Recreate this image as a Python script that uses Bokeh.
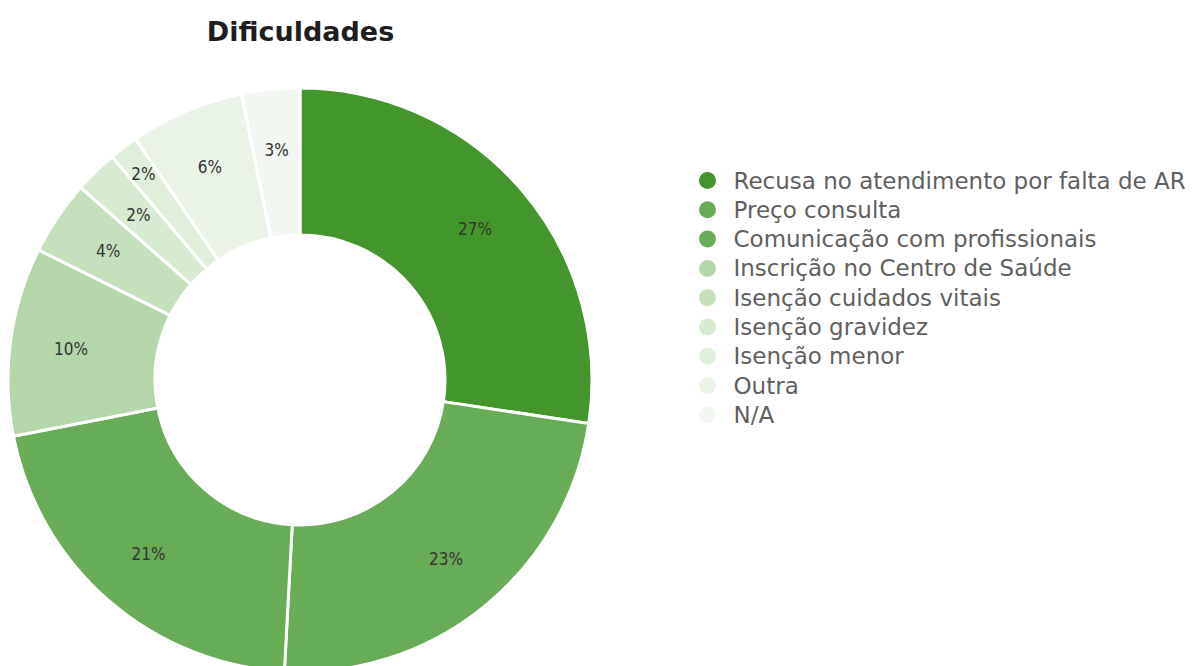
import math
from bokeh.plotting import figure
from bokeh.models import ColumnDataSource, Range1d
from bokeh.core.properties import value
from bokeh.embed import file_html
from bokeh.resources import INLINE

title = "Dificuldades"
categories = [
    "Recusa no atendimento por falta de AR",
    "Preço consulta",
    "Comunicação com profissionais",
    "Inscrição no Centro de Saúde",
    "Isenção cuidados vitais",
    "Isenção gravidez",
    "Isenção menor",
    "Outra",
    "N/A",
]
values = [27.3, 23.4, 21.0, 10.4, 4.1, 2.4, 1.6, 6.3, 3.2]
colors = ["#43962b", "#67ad56", "#67ad56", "#b3d7a8", "#c5e1bc",
          "#d7ebd1", "#dfefda", "#eaf4e6", "#f3f7f1"]
# extra outward shift of a label (px) to avoid overlap
label_shift = {"Isenção menor": 28}

W, H = 1201, 666
p = figure(width=W, height=H, output_backend="svg", toolbar_location=None,
           x_range=Range1d(0, W), y_range=Range1d(0, H), min_border=0)
p.axis.visible = False
p.grid.visible = False
p.outline_line_color = None
p.background_fill_color = "white"

cx, cy = 299.5, 286.5
R_out, R_in, R_lab = 292, 145, 231

total = sum(values)
starts, ends, lx, ly, labels = [], [], [], [], []
cum = 0.0
for c, v in zip(categories, values):
    a0 = math.pi / 2 - cum / total * 2 * math.pi
    cum += v
    a1 = math.pi / 2 - cum / total * 2 * math.pi
    starts.append(a0)
    ends.append(a1)
    mid = (a0 + a1) / 2
    r = R_lab + label_shift.get(c, 0)
    lx.append(cx + r * math.cos(mid))
    ly.append(cy + r * math.sin(mid))
    labels.append(f"{round(v / total * 100)}%")

src = ColumnDataSource(dict(start=starts, end=ends, color=colors,
                            lx=lx, ly=ly, label=labels))
p.annular_wedge(x=cx, y=cy, inner_radius=R_in, outer_radius=R_out,
                start_angle="start", end_angle="end", direction="clock",
                fill_color="color", line_color="white", line_width=3, source=src)
p.text(x="lx", y="ly", text="label", source=src, text_align="center",
       text_baseline="middle", text_font=value("DejaVu Sans Condensed"),
       text_font_size="17px", text_color="#333333")

# title
p.text(x=[300], y=[635], text=[title], text_align="center", text_baseline="middle",
       text_font=value("DejaVu Sans"), text_font_style="bold",
       text_font_size="27px", text_color="#1e1e1e")

# legend
lg_y = [486 - i * 29.3 for i in range(len(categories))]
lsrc = ColumnDataSource(dict(x=[707] * len(categories), tx=[733] * len(categories),
                             y=lg_y, color=colors, name=categories))
p.scatter(x="x", y="y", size=17, marker="circle", fill_color="color",
          line_color=None, source=lsrc)
p.text(x="tx", y="y", text="name", source=lsrc, text_align="left",
       text_baseline="middle", text_font=value("DejaVu Sans"),
       text_font_size="23px", text_color="#5f5f5f")

open("out.html", "w").write(file_html(p, INLINE))
